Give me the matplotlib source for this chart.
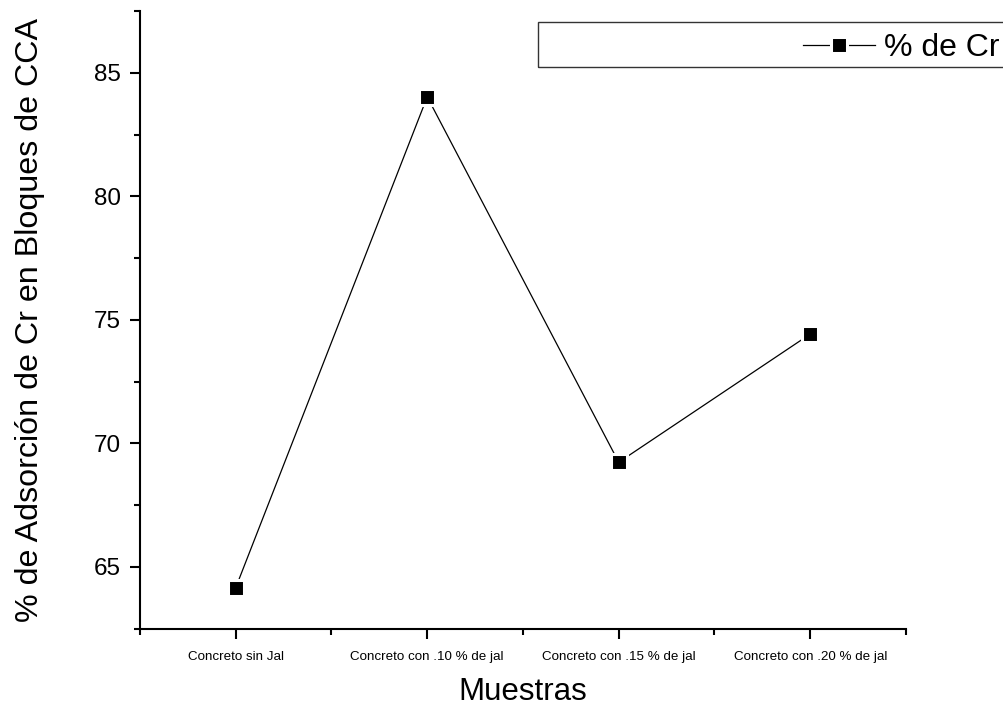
import matplotlib
matplotlib.use('Agg')
import matplotlib.pyplot as plt
from matplotlib.patches import Rectangle
from matplotlib.ticker import MultipleLocator

plt.rcParams['font.family'] = ['Liberation Sans', 'DejaVu Sans']

muestras = ['Concreto sin Jal', 'Concreto con .10 % de jal',
            'Concreto con .15 % de jal', 'Concreto con .20 % de jal']
adsorcion_cr = [64.16, 84.03, 69.24, 74.43]
posiciones = [1, 2, 3, 4]

fig = plt.figure(figsize=(10.04, 7.07), dpi=100)
ax = fig.add_axes([0.1394, 0.1107, 0.7630, 0.8735])

ax.plot(posiciones, adsorcion_cr, color='black', lw=0.9, marker='s',
        markersize=12, markerfacecolor='black', markeredgecolor='white',
        markeredgewidth=2.2, label='% de Cr', clip_on=False, zorder=3)

ax.set_xlim(0.5, 4.5)
ax.set_ylim(62.5, 87.5)
ax.set_xticks(posiciones)
ax.set_xticklabels(muestras, fontsize=9.6)
ax.xaxis.set_minor_locator(MultipleLocator(1, offset=0.5))
ax.yaxis.set_major_locator(MultipleLocator(5))
ax.yaxis.set_minor_locator(MultipleLocator(2.5))

for s in ['top', 'right']:
    ax.spines[s].set_visible(False)
for s in ['left', 'bottom']:
    ax.spines[s].set_linewidth(1.5)

ax.tick_params(which='major', direction='out', length=7, width=1.5)
ax.tick_params(which='minor', direction='out', length=4.3, width=1.5)
ax.tick_params(axis='y', which='major', labelsize=17.5, pad=7)
ax.tick_params(axis='x', which='major', pad=9)

ax.set_xlabel('Muestras', fontsize=22.5, labelpad=10)
ax.set_ylabel('% de Adsorción de Cr en Bloques de CCA', fontsize=23.2, labelpad=35)

# legend box, cut by the right edge like the original
fig.patches.append(Rectangle((538 / 1004, 1 - 67 / 707), 0.6, 45 / 707,
                             transform=fig.transFigure, fill=False,
                             edgecolor='#333333', lw=1.0))
fig.legend(loc='center left', bbox_to_anchor=(803 / 1004, 1 - 48 / 707),
           frameon=False, fontsize=23, handlelength=2.25, handletextpad=0.3,
           borderpad=0, borderaxespad=0)

fig.savefig('out.png', dpi=100)
